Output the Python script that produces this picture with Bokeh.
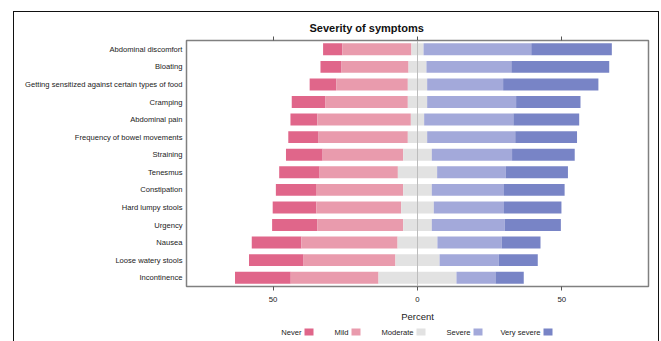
from bokeh.plotting import figure
from bokeh.layouts import column
from bokeh.models import (FactorRange, Range1d, LinearAxis, FixedTicker, Span,
                          ColumnDataSource)
from bokeh.embed import file_html
from bokeh.resources import INLINE

# ---- data (percent of respondents) ----
symptoms = [
    "Abdominal discomfort", "Bloating",
    "Getting sensitized against certain types of food", "Cramping",
    "Abdominal pain", "Frequency of bowel movements", "Straining",
    "Tenesmus", "Constipation", "Hard lumpy stools", "Urgency", "Nausea",
    "Loose watery stools", "Incontinence",
]
levels = ["Never", "Mild", "Moderate", "Severe", "Very severe"]
never       = [6.7, 7.3, 9.2, 11.7, 9.3, 10.5, 12.7, 14.0, 13.9, 15.1, 15.7, 17.2, 18.9, 19.3]
mild        = [23.9, 23.2, 24.8, 28.5, 32.4, 30.9, 27.9, 27.1, 30.2, 29.4, 29.7, 33.3, 31.8, 30.4]
moderate    = [4.2, 6.2, 6.7, 6.7, 4.6, 6.7, 9.9, 13.6, 9.9, 11.3, 9.9, 13.8, 15.3, 27.0]
severe      = [37.3, 29.4, 26.3, 30.8, 30.9, 30.5, 27.8, 23.8, 25.0, 24.3, 25.3, 22.3, 20.5, 13.5]
very_severe = [27.9, 33.9, 33.0, 22.3, 22.8, 21.4, 21.7, 21.5, 21.0, 19.9, 19.4, 13.4, 13.5, 9.8]
x_ticks = [-50, 0, 50]
tick_labels = {-50: "50", 0: "0", 50: "50"}

colors = ["#E0668A", "#E99BAD", "#E2E2E2", "#A3A9DA", "#7884C6"]
FONT = "Liberation Sans"
series = [never, mild, moderate, severe, very_severe]

# ---- layout constants (pixels) ----
FIG_W = 644
MAIN_H = 312
LEG_H = 17
BL, BR = 172, 10          # left / right borders around the plot frame
X0 = 14                   # window x of the figures' left edge

p = figure(width=FIG_W, height=MAIN_H, output_backend="svg", toolbar_location=None,
           y_range=FactorRange(factors=symptoms[::-1], range_padding=0),
           x_range=Range1d(-80, 80),
           min_border_left=BL, min_border_right=BR, min_border_top=28,
           min_border_bottom=38, x_axis_location=None,
           title="Severity of symptoms")

# stacked diverging bars: negative side = Never + Mild + half Moderate
for i, s in enumerate(series):
    lefts, rights = [], []
    for r in range(len(symptoms)):
        start = -(never[r] + mild[r] + moderate[r] / 2.0)
        offs = sum(series[k][r] for k in range(i))
        lefts.append(start + offs)
        rights.append(start + offs + s[r])
    src = ColumnDataSource(dict(y=symptoms, left=lefts, right=rights))
    p.hbar(y="y", left="left", right="right", height=0.68, source=src,
           fill_color=colors[i], line_color=None)

p.add_layout(Span(location=0, dimension="height", line_color="#bdbdbd",
                  line_width=1, level="overlay"))

p.grid.visible = False
p.outline_line_color = "#808080"
p.outline_line_width = 1.5
p.background_fill_color = "white"

p.title.text_font = FONT
p.title.text_font_style = "bold"
p.title.text_font_size = "11px"
p.title.text_color = "#111111"
p.title.align = "left"
p.title.offset = 123
p.title.standoff = 6

# y axis
ya = p.yaxis[0]
ya.axis_line_color = None
ya.major_tick_line_color = None
ya.major_tick_out = 0
ya.major_tick_in = 0
ya.minor_tick_line_color = None
ya.major_label_standoff = 4
ya.major_label_text_font = FONT
ya.major_label_text_font_size = "7.6px"
ya.major_label_text_color = "#222222"

# bottom axis
xb = LinearAxis(ticker=FixedTicker(ticks=x_ticks), major_label_overrides=tick_labels,
                axis_label="Percent")
xb.axis_line_color = None
xb.major_tick_out = 4
xb.major_tick_in = 0
xb.major_tick_line_color = "#555555"
xb.minor_tick_line_color = None
xb.major_label_standoff = 6
xb.major_label_text_font = FONT
xb.major_label_text_font_size = "7.8px"
xb.major_label_text_color = "#222222"
xb.axis_label_text_font = FONT
xb.axis_label_text_font_style = "normal"
xb.axis_label_text_font_size = "9.5px"
xb.axis_label_text_color = "#222222"
xb.axis_label_standoff = 6
p.add_layout(xb, "below")

# top axis (ticks only)
xt = LinearAxis(ticker=FixedTicker(ticks=x_ticks),
                major_label_overrides={t: "" for t in x_ticks})
xt.axis_line_color = None
xt.major_tick_out = 4
xt.major_tick_in = 0
xt.major_tick_line_color = "#555555"
xt.minor_tick_line_color = None
xt.major_label_standoff = 0
p.add_layout(xt, "above")

# ---- legend strip (label followed by swatch); frame aligned with main frame ----
leg = figure(width=FIG_W, height=LEG_H, output_backend="svg", toolbar_location=None,
             x_range=Range1d(X0 + BL, X0 + FIG_W - BR), y_range=Range1d(LEG_H, 0),
             min_border_left=BL, min_border_right=BR, min_border_top=0,
             min_border_bottom=0, x_axis_location=None, y_axis_location=None)
leg.outline_line_color = None
leg.grid.visible = False
swatch_x = [304, 351, 416, 473, 543]  # layout: swatch left edges (window px)
leg_src = ColumnDataSource(dict(
    tx=[sx - 3 for sx in swatch_x],
    rx=[sx + 4.5 for sx in swatch_x],
    label=levels, color=colors))
leg.text(x="tx", y=7.5, text="label", source=leg_src, text_align="right",
         text_baseline="middle", text_font_size="7.6px", text_color="#222222",
         text_font={"value": FONT})
leg.rect(x="rx", y=7.5, width=9, height=7, source=leg_src,
         fill_color="color", line_color=None)

root = column(p, leg, spacing=0,
              styles={"margin-left": "13px", "margin-top": "11px",
                      "border-left": "1px solid #111111",
                      "border-top": "1px solid #111111",
                      "border-right": "1px solid #111111"})

open("out.html", "w").write(file_html(root, INLINE))
